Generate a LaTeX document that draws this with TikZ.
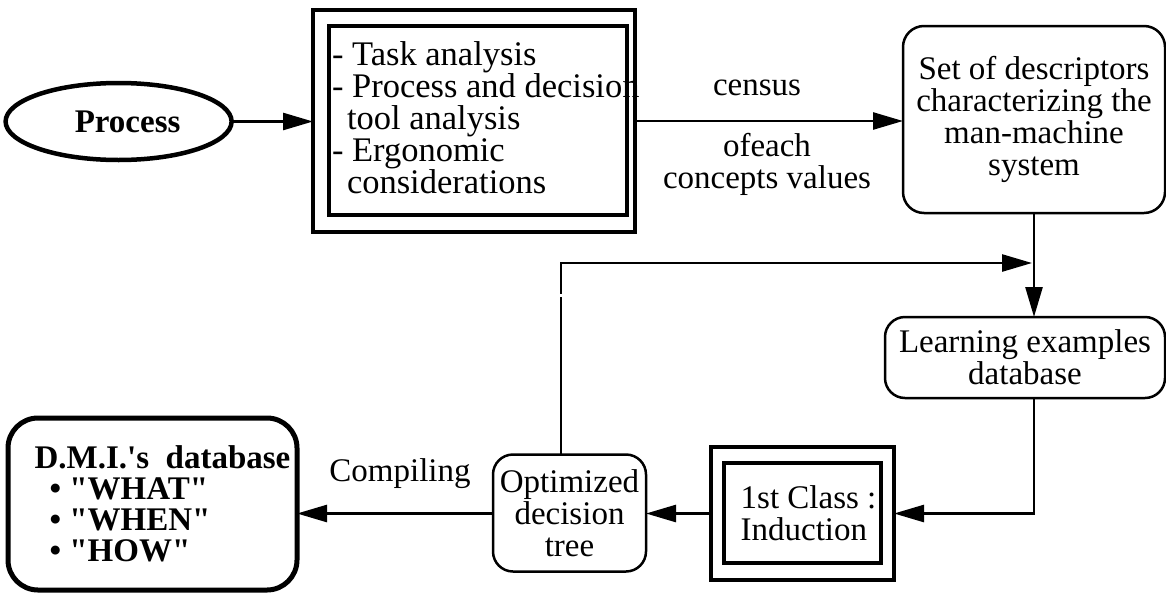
\documentclass[tikz,border=0pt]{standalone}
\usepackage{fontspec}
\setmainfont{Liberation Serif}
\usetikzlibrary{arrows.meta,shapes.geometric,calc}
\begin{document}
\begin{tikzpicture}[x=1pt,y=-1pt,
  every node/.style={font=\fontsize{33}{32}\selectfont, inner sep=0pt, outer sep=0pt},
  conn/.style={line width=2.6pt, -{Triangle[length=30pt,width=17pt]}},
  rbox/.style={draw, line width=2.5pt, rounded corners=21pt, align=center},
  dbox/.style={draw, line width=3.2pt},
  inbox/.style={line width=3.6pt}]
\useasboundingbox (0,0) rectangle (1166,592);

% nodes
\node[ellipse, draw, line width=4.5pt, minimum width=226pt, minimum height=77pt, align=left,
      font=\fontsize{33}{32}\selectfont\bfseries] (proc) at (118.6,121.5) {\hspace*{18pt}Process};

\node[dbox, minimum width=322pt, minimum height=222pt] (task) at (474,121) {};
\draw[inbox] ([shift={(16,16)}]task.north west) rectangle ([shift={(-8,-17)}]task.south east);
\node[anchor=west, align=left, font=\fontsize{34.5}{32}\selectfont] (tasktxt) at (332,118)
  {- Task analysis\\- Process and decision\\\hspace*{15pt}tool analysis\\- Ergonomic\\\hspace*{15pt}considerations};

\node (census) at (757,88) {census};
\node[align=center] (ofeach) at (767,164) {ofeach\\concepts values};

\node[rbox, minimum width=262pt, minimum height=187pt] (desc) at (1034,119.5)
  {Set of descriptors\\characterizing the\\man-machine\\system};

\node[rbox, rounded corners=20pt, minimum width=280pt, minimum height=81pt] (learn) at (1025,357.5)
  {Learning examples\\database};

\node[draw, line width=3.4pt, minimum width=183pt, minimum height=133pt, align=left] (ind) at (802.5,513.5)
  {\hspace*{12pt}1st Class :\\\hspace*{12pt}Induction};
\draw[line width=4pt] ([shift={(13,16)}]ind.north west) rectangle ([shift={(-13,-17)}]ind.south east);

\node[rbox, rounded corners=20pt, minimum width=153pt, minimum height=117pt] (opt) at (569.5,513)
  {Optimized\\decision\\tree};

\node[rbox, line width=5pt, rounded corners=30pt, minimum width=289pt, minimum height=172pt, align=left,
      font=\fontsize{33}{31}\selectfont\bfseries] (dmi) at (152.5,504)
  {\hspace*{20pt}D.M.I.\textquotesingle s\ \ database\\\hspace*{35pt}\textbullet\ \textquotedbl WHAT\textquotedbl\\\hspace*{35pt}\textbullet\ \textquotedbl WHEN\textquotedbl\\\hspace*{35pt}\textbullet\ \textquotedbl HOW\textquotedbl};

\node (comp) at (400,474) {Compiling};

% connectors
\draw[conn] (proc.east) -- (proc.east -| task.west);
\draw[conn] (task.east) -- (task.east -| desc.west);
\draw[conn] (desc.south) -- (learn.north -| desc.south);
\coordinate (fb) at (561,263);
\draw[conn, shorten >=2pt] (fb |- opt.north) -- (fb) -- (fb -| desc.south);
\fill[white] (557,293.5) rectangle (565,297);
\draw[conn] (learn.south -| desc.south) -- (desc.south |- ind.east) -- (ind.east);
\draw[conn] (ind.west) -- (ind.west -| opt.east);
\draw[conn] (opt.west |- ind.west) -- (ind.west -| dmi.east);
\end{tikzpicture}
\end{document}
